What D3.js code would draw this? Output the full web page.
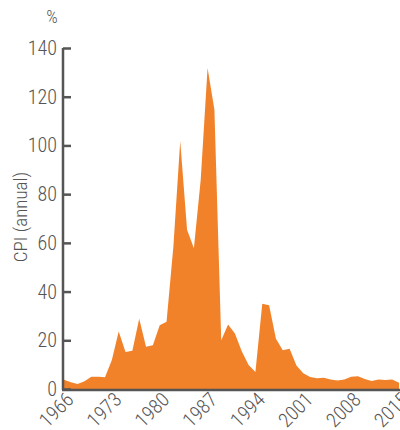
<!DOCTYPE html>
<html><head><meta charset="utf-8">
<script src="https://cdn.jsdelivr.net/npm/d3@7"></script>
<style>
html,body{margin:0;padding:0;background:#fff;}
text{font-family:"Roboto Condensed","Liberation Sans Narrow",sans-serif;fill:#555;font-weight:300;}
</style></head>
<body>
<svg id="c" width="400" height="430"></svg>
<script>
const years = d3.range(1966, 2016);
const cpi = [3.8,2.8,2.1,3.2,5.0,5.0,4.8,11.9,23.6,15.2,15.7,28.8,17.3,18.0,26.2,27.6,58.5,101.8,65.4,57.8,86.0,131.8,114.6,20.0,26.5,22.8,15.5,9.9,7.0,35.0,34.4,20.6,15.9,16.5,9.6,6.5,4.9,4.4,4.6,3.9,3.5,3.9,5.0,5.2,4.1,3.3,3.9,3.7,3.9,2.6];
const yTicks = [0,20,40,60,80,100,120,140];
const xTicks = [1966,1973,1980,1987,1994,2001,2008,2015];
const data = years.map((y,i)=>({year:y, v:cpi[i]}));

const svg = d3.select("#c");
const x = d3.scaleLinear().domain([1966,2015]).range([64,399]);
const y = d3.scaleLinear().domain([0,140]).range([389,48]);

svg.append("path").datum(data)
  .attr("fill","#F1822A")
  .attr("d", d3.area().x(d=>x(d.year)).y0(y(0)).y1(d=>y(d.v)));

// y axis
const ya = svg.append("g").attr("transform","translate(63,0)")
  .call(d3.axisRight(y).tickValues(yTicks).tickSize(8).tickFormat(""));
ya.select(".domain").attr("stroke","#555").attr("stroke-width",2.5).attr("d","M0,"+(y(140))+"V"+(y(0)+1));
ya.selectAll(".tick line").attr("stroke","#555").attr("stroke-width",2.5);
svg.append("g").selectAll("text").data(yTicks).join("text")
  .attr("x",57).attr("y",d=>y(d)).attr("dy","0.35em")
  .attr("text-anchor","end").attr("font-size",20).text(d=>d);

// x axis
const xa = svg.append("g").attr("transform","translate(0,390)")
  .call(d3.axisBottom(x).tickValues(xTicks).tickSize(0).tickFormat(""));
xa.select(".domain").attr("stroke","#555").attr("stroke-width",2.5).attr("d","M62,0H400");
svg.append("g").selectAll("text").data(xTicks).join("text")
  .attr("transform",d=>`translate(${x(d)+6},${396}) rotate(-45)`)
  .attr("text-anchor","end").attr("dy","0.35em").attr("font-size",20).text(d=>d);

svg.append("text").attr("transform","translate(20,217) rotate(-90)")
  .attr("text-anchor","middle").attr("dy","0.35em").attr("font-size",19).text("CPI (annual)");
svg.append("text").attr("x",52).attr("y",17).attr("dy","0.35em")
  .attr("text-anchor","middle").attr("font-size",18).text("%");
</script>
</body></html>
